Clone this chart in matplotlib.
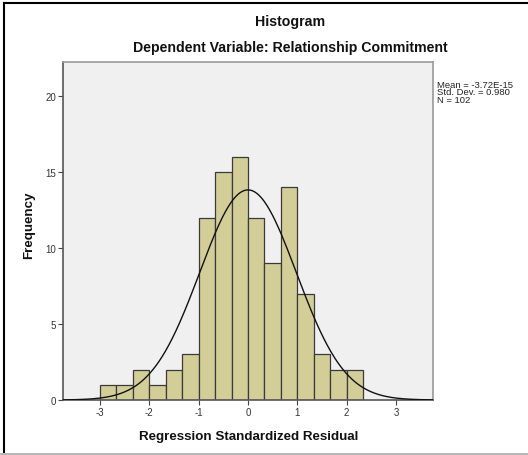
import numpy as np
import matplotlib
matplotlib.use("Agg")
import matplotlib.pyplot as plt
from matplotlib.lines import Line2D

plt.rcParams['font.family'] = ['Liberation Sans', 'DejaVu Sans']

# Histogram data (bin width 1/3)
bin_edges = np.arange(-3.0, 2.34, 1.0 / 3.0)
counts = [1, 1, 2, 1, 2, 3, 12, 15, 16, 12, 9, 14, 7, 3, 2, 2]
mean = -3.72e-15
std_dev = 0.980
n_obs = 102
stats_lines = ["Mean = -3.72E-15", "Std. Dev. = 0.980", "N = 102"]
x_ticks = [-3, -2, -1, 0, 1, 2, 3]
y_ticks = [0, 5, 10, 15, 20]

W, H = 528, 456
fig = plt.figure(figsize=(W / 100, H / 100), dpi=100)
fig.patch.set_facecolor('white')

ax = fig.add_axes([63 / W, 1 - 401 / H, 370 / W, (401 - 62.5) / H])
ax.set_facecolor('#f0f0f0')

widths = np.diff(bin_edges)[:len(counts)]
ax.bar(bin_edges[:len(counts)], counts, width=widths, align='edge',
       color='#d3ce98', edgecolor='#3a3a3a', linewidth=0.9, zorder=2)

# normal curve scaled to counts
bw = 1.0 / 3.0
xs = np.linspace(-3.75, 3.75, 400)
ys = n_obs * bw / (std_dev * np.sqrt(2 * np.pi)) * np.exp(-0.5 * ((xs - mean) / std_dev) ** 2)
ax.plot(xs, ys, color='#111111', linewidth=1.0, zorder=3)

ax.set_xlim(-3.75, 3.75)
ax.set_ylim(0, 22.3)
ax.set_xticks(x_ticks)
ax.set_xticklabels([str(t) for t in x_ticks])
ax.set_yticks(y_ticks)
ax.set_yticklabels([str(t) for t in y_ticks])
ax.tick_params(direction='out', length=3.5, width=0.8, colors='#444444',
               labelsize=7, labelcolor='#333333', pad=1.5)

for side in ['left', 'bottom']:
    ax.spines[side].set_color('#555555')
    ax.spines[side].set_linewidth(1.2)
for side in ['top', 'right']:
    ax.spines[side].set_color('#999999')
    ax.spines[side].set_linewidth(1.2)

fig.text(290 / W, 1 - 22 / H, "Histogram", ha='center', va='center',
         fontsize=10.2, fontweight='bold', color='#111111')
fig.text(290 / W, 1 - 48 / H, "Dependent Variable: Relationship Commitment",
         ha='center', va='center', fontsize=10.2, fontweight='bold', color='#111111')
fig.text(249 / W, 1 - 437 / H, "Regression Standardized Residual", ha='center',
         va='center', fontsize=9.6, fontweight='bold', color='#111111')
fig.text(29 / W, 1 - 225 / H, "Frequency", ha='center', va='center',
         rotation=90, fontsize=9.6, fontweight='bold', color='#111111')

for i, line in enumerate(stats_lines):
    fig.text(437 / W, 1 - (85 + i * 7.8) / H, line, ha='left', va='center',
             fontsize=6.8, color='#222222')

# outer frame (left/top black, bottom light grey)
fig.add_artist(Line2D([3.5 / W, 3.5 / W], [1 - 3.5 / H, 1 - 453 / H],
                      transform=fig.transFigure, color='black', linewidth=1.5))
fig.add_artist(Line2D([3.5 / W, 1.0], [1 - 3.5 / H, 1 - 3.5 / H],
                      transform=fig.transFigure, color='black', linewidth=1.5))
fig.add_artist(Line2D([0, 1.0], [1 - 454.5 / H, 1 - 454.5 / H],
                      transform=fig.transFigure, color='#aaaaaa', linewidth=1.2))

fig.savefig('out.png', dpi=100)
